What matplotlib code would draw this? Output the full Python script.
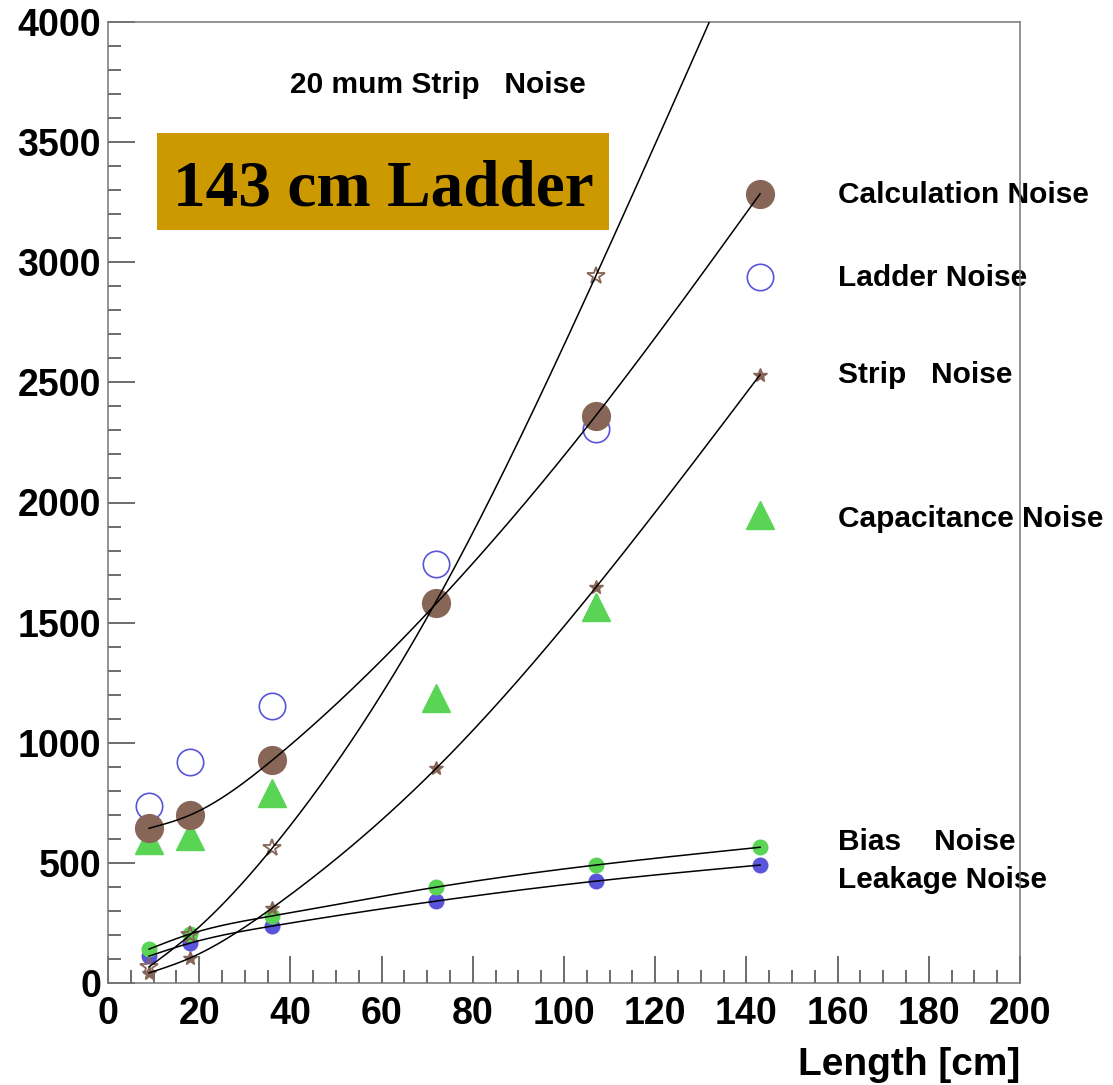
import matplotlib
matplotlib.use('Agg')
import matplotlib.pyplot as plt
from matplotlib.patches import Rectangle
import numpy as np

plt.rcParams['font.family'] = ['Liberation Sans', 'DejaVu Sans']

# ladder length in cm
length = [9, 18, 36, 72, 107, 143]

# noise values
calc_noise = [644, 699, 927, 1580, 2362, 3285]
ladder_noise = [736, 919, 1152, 1746, 2308, 2940]
strip_noise = [42, 104, 312, 894, 1647, 2532]
strip20_noise = [67, 200, 561, 1590, 2944, 4480]
cap_noise = [595, 610, 790, 1185, 1563, 1946]
bias_noise = [141, 204, 279, 399, 491, 565]
leak_noise = [112, 166, 237, 341, 424, 491]

x_ticks = [0, 20, 40, 60, 80, 100, 120, 140, 160, 180, 200]
y_ticks = [0, 500, 1000, 1500, 2000, 2500, 3000, 3500, 4000]

brown = '#876657'
green = '#59d454'
blue = '#5954d9'


def smooth(x, y, n=300):
    # natural cubic spline through the points (like ROOT "C" option)
    x = np.asarray(x, float)
    y = np.asarray(y, float)
    m = len(x)
    h = np.diff(x)
    A = np.zeros((m, m))
    r = np.zeros(m)
    A[0, 0] = 1
    A[-1, -1] = 1
    for i in range(1, m - 1):
        A[i, i - 1] = h[i - 1]
        A[i, i] = 2 * (h[i - 1] + h[i])
        A[i, i + 1] = h[i]
        r[i] = 3 * ((y[i + 1] - y[i]) / h[i] - (y[i] - y[i - 1]) / h[i - 1])
    c = np.linalg.solve(A, r)
    b = (y[1:] - y[:-1]) / h - h * (2 * c[:-1] + c[1:]) / 3
    d = (c[1:] - c[:-1]) / (3 * h)
    xs = np.linspace(x[0], x[-1], n)
    idx = np.clip(np.searchsorted(x, xs) - 1, 0, m - 2)
    dx = xs - x[idx]
    ys = y[idx] + b[idx] * dx + c[idx] * dx ** 2 + d[idx] * dx ** 3
    return xs, ys


fig = plt.figure(figsize=(11.13, 10.85), dpi=100)
ax = fig.add_axes([108 / 1113, 1 - 983 / 1085, 912 / 1113, 961 / 1085])

# markers
ax.plot(length, cap_noise, '^', ms=20, color=green, zorder=2)
ax.plot(length, ladder_noise, 'o', ms=19, mfc='none', mec=blue, mew=1.2, zorder=3)
ax.plot(length, calc_noise, 'o', ms=20, color=brown, zorder=4)
ax.plot(length, leak_noise, 'o', ms=10.5, color=blue, zorder=5)
ax.plot(length, bias_noise, 'o', ms=10.5, color=green, zorder=6)
ax.plot(length, strip_noise, '*', ms=10, color=brown, zorder=7)
ax.plot(length, strip20_noise, '*', ms=13, mfc='none', mec=brown, mew=1.3, zorder=7)

# smooth curves on top
for series in [calc_noise, strip_noise, strip20_noise, bias_noise, leak_noise]:
    xs, ys = smooth(length, series)
    ax.plot(xs, ys, color='black', lw=1.1, zorder=8)

ax.set_xlim(0, 200)
ax.set_ylim(0, 4000)
ax.set_xticks(x_ticks)
ax.set_yticks(y_ticks)
ax.set_xticks(np.arange(0, 201, 5), minor=True)
ax.set_yticks(np.arange(0, 4001, 100), minor=True)
ax.tick_params(which='major', direction='in', length=19.5, width=1.1,
               color='#444444', labelsize=27)
ax.tick_params(which='minor', direction='in', length=9.5, width=1.1,
               color='#444444')
ax.tick_params(axis='x', pad=9)
ax.tick_params(axis='y', pad=5)
for lab in ax.get_xticklabels() + ax.get_yticklabels():
    lab.set_fontweight('bold')
for sp in ax.spines.values():
    sp.set_color('#777777')
    sp.set_linewidth(1.1)

fig.text(1020 / 1113, 1 - 1075 / 1085, 'Length [cm]', ha='right',
         va='baseline', fontsize=28, fontweight='bold')

# labels next to the last points
ax.text(40, 3705, '20 mum Strip   Noise', fontsize=21.5, fontweight='bold')
ax.text(160, 3247, 'Calculation Noise', fontsize=21.5, fontweight='bold', clip_on=False, zorder=1)
ax.text(160, 2902, 'Ladder Noise', fontsize=21.5, fontweight='bold', clip_on=False, zorder=1)
ax.text(160, 2499, 'Strip   Noise', fontsize=21.5, fontweight='bold', clip_on=False, zorder=1)
ax.text(160, 1896, 'Capacitance Noise', fontsize=21.5, fontweight='bold', clip_on=False, zorder=1)
ax.text(160, 553, 'Bias    Noise', fontsize=21.5, fontweight='bold', clip_on=False, zorder=1)
ax.text(160, 395, 'Leakage Noise', fontsize=21.5, fontweight='bold', clip_on=False, zorder=1)

# gold box with the ladder length
fig.patches.append(Rectangle((157 / 1113, 1 - 230 / 1085), 452 / 1113, 97 / 1085,
                             transform=fig.transFigure, facecolor='#cc9900',
                             edgecolor='none', zorder=10))
fig.text(383 / 1113, 1 - 205 / 1085, '143 cm Ladder', ha='center', va='baseline',
         fontsize=47, fontweight='bold', family=['Liberation Serif', 'DejaVu Serif'],
         zorder=11)

fig.savefig('out.png', dpi=100)
